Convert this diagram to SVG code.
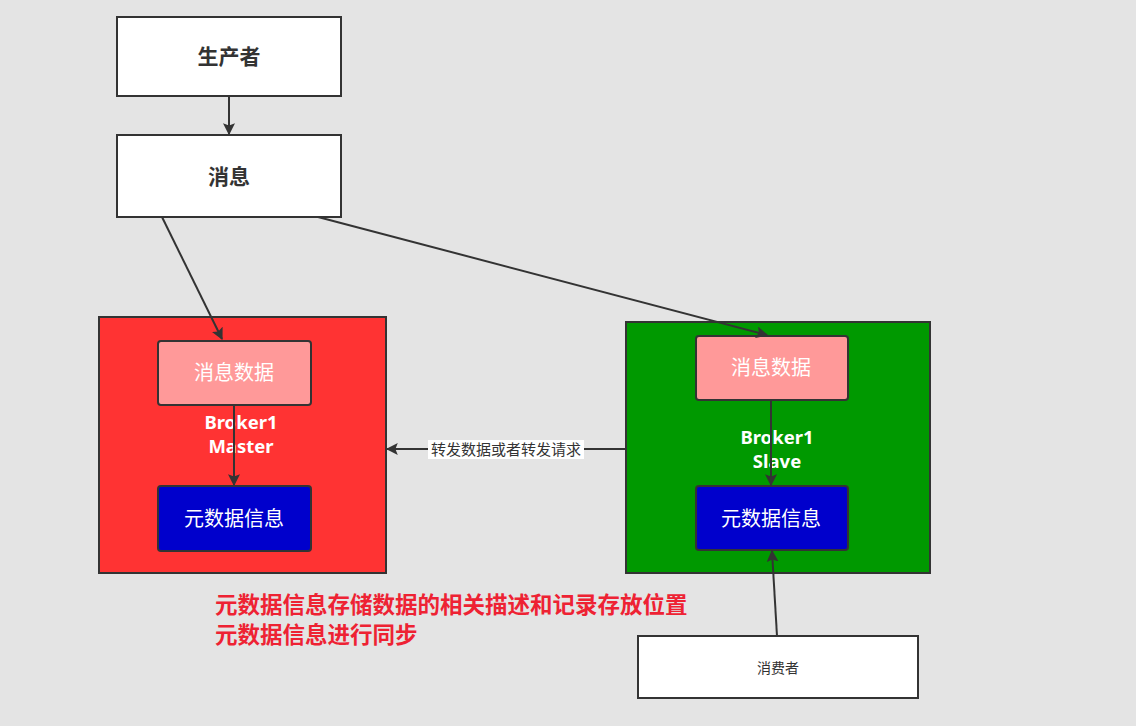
<svg xmlns="http://www.w3.org/2000/svg" width="1136" height="726" viewBox="0 0 1136 726">
<defs>
<style>
.box{fill:#fff;stroke:#333;stroke-width:2}
.inner{stroke:#333;stroke-width:2}
.cn{font-family:"Noto Sans CJK SC","Noto Sans",sans-serif;text-anchor:middle}
.lbl{font-family:"Noto Sans","Noto Sans CJK SC",sans-serif;font-weight:bold;fill:#fff;font-size:18.5px;text-anchor:middle}
.edge{stroke:#333;stroke-width:2;fill:none;marker-end:url(#arr)}
</style>
<marker id="arr" viewBox="0 0 10 10" refX="9" refY="5" markerWidth="6" markerHeight="6" orient="auto" markerUnits="strokeWidth">
<path d="M0,0 L10,5 L0,10 L2,5 z" fill="#333"/>
</marker>
</defs>
<rect width="1136" height="726" fill="#e4e4e4"/>
<g id="producer"><rect class="box" x="117" y="17" width="224" height="79"/><text class="cn" x="229" y="64" font-size="21" font-weight="bold" fill="#333">生产者</text></g>
<g id="message"><rect class="box" x="117" y="135" width="224" height="82"/><text class="cn" x="229" y="184" font-size="21" font-weight="bold" fill="#333">消息</text></g>
<g id="master"><rect x="99" y="317" width="287" height="256" fill="#ff3333" stroke="#333" stroke-width="2"/>
<text class="lbl" x="241" y="429">Broker1</text><text class="lbl" x="241" y="453">Master</text></g>
<g id="master-data"><rect class="inner" x="158" y="341" width="153" height="64" rx="3" fill="#ff9999"/><text class="cn" x="234" y="380" font-size="20" fill="#fff">消息数据</text></g>
<g id="master-meta"><rect class="inner" x="158" y="486" width="153" height="65" rx="3" fill="#0000cc"/><text class="cn" x="234" y="526" font-size="20" fill="#fff">元数据信息</text></g>
<g id="slave"><rect x="626" y="322" width="304" height="251" fill="#009900" stroke="#333" stroke-width="2"/>
<text class="lbl" x="777" y="444">Broker1</text><text class="lbl" x="777" y="468">Slave</text></g>
<g id="slave-data"><rect class="inner" x="696" y="336" width="152" height="64" rx="3" fill="#ff9999"/><text class="cn" x="771" y="375" font-size="20" fill="#fff">消息数据</text></g>
<g id="slave-meta"><rect class="inner" x="696" y="486" width="152" height="64" rx="3" fill="#0000cc"/><text class="cn" x="771" y="526" font-size="20" fill="#fff">元数据信息</text></g>
<g id="consumer"><rect class="box" x="638" y="636" width="280" height="62"/><text class="cn" x="778" y="673" font-size="14" fill="#333">消费者</text></g>
<g id="note" font-family="'Noto Sans CJK SC',sans-serif" font-weight="bold" font-size="22.5" fill="#ee2233">
<text x="215" y="613">元数据信息存储数据的相关描述和记录存放位置</text>
<text x="215" y="643">元数据信息进行同步</text></g>
<g id="connectors">
<line class="edge" x1="229" y1="96" x2="229" y2="134"/>
<line class="edge" x1="162" y1="217" x2="222" y2="339"/>
<line class="edge" x1="318" y1="217" x2="767" y2="335"/>
<line class="edge" x1="234" y1="405" x2="234" y2="485"/>
<line class="edge" x1="771" y1="400" x2="771" y2="485"/>
<line class="edge" x1="777" y1="636" x2="772" y2="551"/>
<line class="edge" x1="626" y1="449" x2="387" y2="449"/>
<rect x="428" y="440" width="156" height="19" fill="#fff"/>
<text class="cn" x="506" y="455" font-size="15" fill="#333">转发数据或者转发请求</text>
</g>
</svg>
